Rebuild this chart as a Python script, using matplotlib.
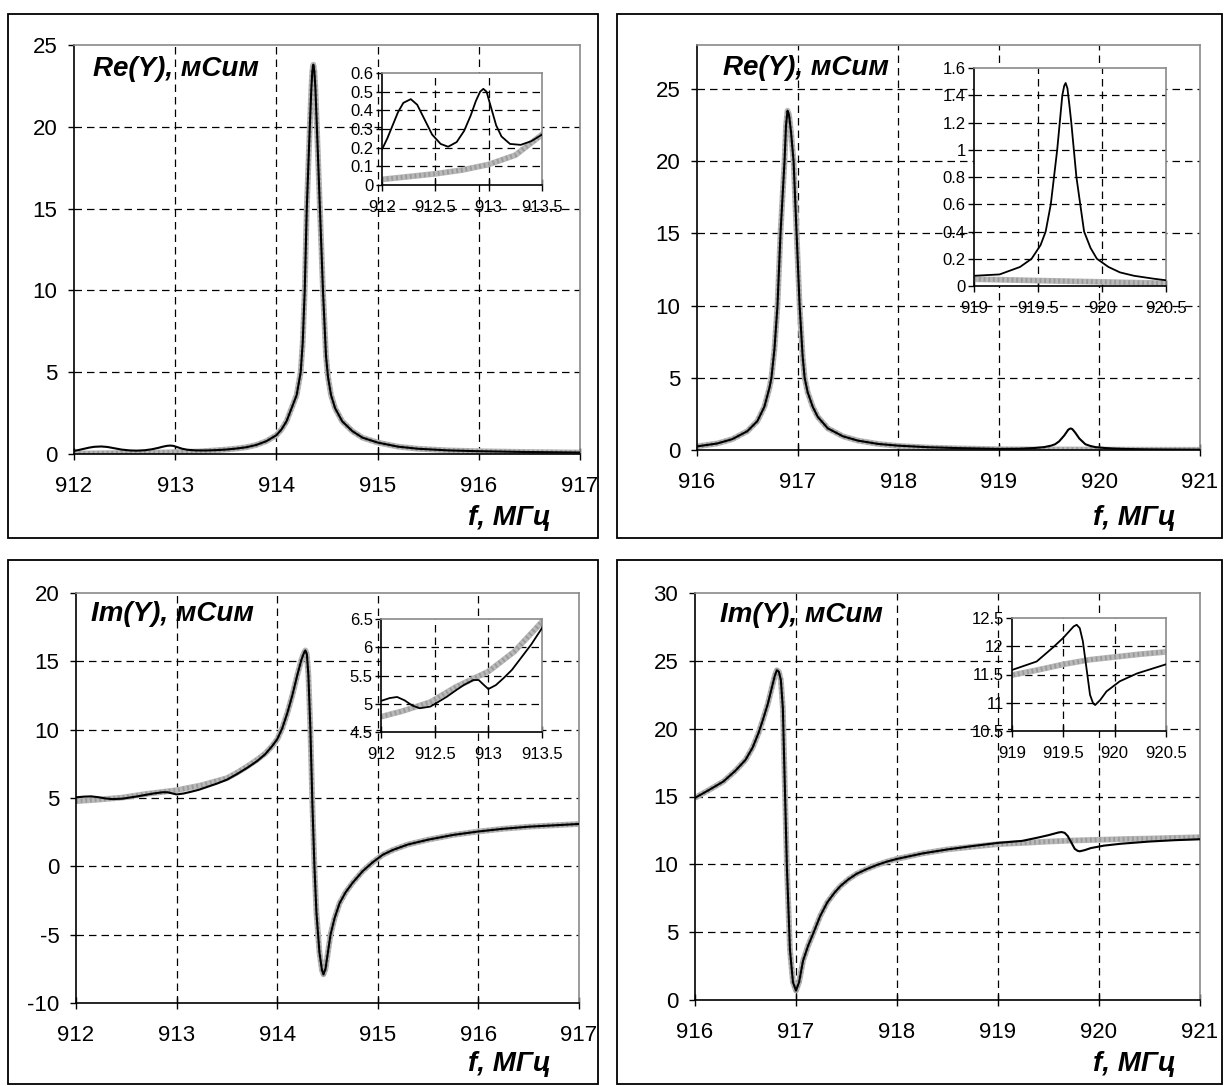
import matplotlib
matplotlib.use("Agg")
import matplotlib.pyplot as plt
from matplotlib.patches import Rectangle
from matplotlib.ticker import FuncFormatter

# ---- data (f in MHz, Y in mS) ----
# Re(Y), 912-917 MHz: black = measured, gray = model
re1_f = [912.0, 912.05, 912.1, 912.15, 912.2, 912.27, 912.33, 912.4, 912.47, 912.55,
         912.62, 912.7, 912.77, 912.83, 912.88, 912.92, 912.95, 912.98, 913.02, 913.07,
         913.12, 913.2, 913.3, 913.4, 913.5, 913.6, 913.7, 913.8, 913.9, 914.0,
         914.05, 914.1, 914.15, 914.2, 914.24, 914.26, 914.28, 914.3, 914.33, 914.345,
         914.355, 914.365, 914.375, 914.385, 914.4, 914.43, 914.46, 914.49, 914.51, 914.54,
         914.58, 914.65, 914.75, 914.85, 915.0, 915.2, 915.4, 915.7, 916.0, 916.5, 917.0]
re1_k = [0.19, 0.25, 0.32, 0.39, 0.44, 0.46, 0.43, 0.35, 0.27, 0.22,
         0.205, 0.23, 0.29, 0.37, 0.45, 0.50, 0.515, 0.50, 0.42, 0.32,
         0.26, 0.22, 0.215, 0.235, 0.27, 0.33, 0.41, 0.55, 0.78, 1.15,
         1.5, 2.0, 2.8, 3.6, 5.0, 6.8, 10.0, 15.0, 20.0, 22.3,
         23.4, 23.8, 23.4, 22.4, 20.0, 15.0, 10.0, 6.0, 4.7, 3.6,
         2.8, 2.0, 1.4, 1.0, 0.7, 0.45, 0.32, 0.22, 0.17, 0.12, 0.09]
re1_g_f = [912.0, 912.25, 912.5, 912.75, 913.0, 913.25, 913.5, 913.6, 913.7, 913.8,
           913.9, 914.0, 914.05, 914.1, 914.15, 914.2, 914.24, 914.26, 914.28, 914.3,
           914.33, 914.345, 914.355, 914.365, 914.375, 914.385, 914.4, 914.43, 914.46, 914.49,
           914.51, 914.54, 914.58, 914.65, 914.75, 914.85, 915.0, 915.2, 915.4, 915.7,
           916.0, 916.5, 917.0]
re1_g = [0.03, 0.045, 0.06, 0.08, 0.11, 0.16, 0.27, 0.33, 0.41, 0.55,
         0.78, 1.15, 1.5, 2.0, 2.8, 3.6, 5.0, 6.8, 10.0, 15.0,
         20.0, 22.3, 23.4, 23.8, 23.4, 22.4, 20.0, 15.0, 10.0, 6.0,
         4.7, 3.6, 2.8, 2.0, 1.4, 1.0, 0.7, 0.45, 0.32, 0.22,
         0.17, 0.12, 0.09]

# Re(Y), 916-921 MHz
re2_f = [916.0, 916.2, 916.35, 916.5, 916.6, 916.67, 916.72, 916.74, 916.77, 916.8,
         916.83, 916.87, 916.885, 916.9, 916.915, 916.935, 916.96, 916.99, 917.02, 917.05,
         917.07, 917.1, 917.15, 917.2, 917.3, 917.45, 917.6, 917.8, 918.0, 918.3,
         918.6, 919.0, 919.2, 919.36, 919.45, 919.52, 919.56, 919.6, 919.625, 919.65,
         919.67, 919.69, 919.705, 919.716, 919.73, 919.745, 919.76, 919.78, 919.8, 919.83,
         919.86, 919.91, 919.96, 920.05, 920.14, 920.25, 920.4, 920.5, 920.75, 921.0]
re2_k = [0.25, 0.45, 0.75, 1.3, 2.0, 3.0, 4.3, 5.0, 7.0, 10.0,
         15.0, 20.0, 22.5, 23.5, 23.2, 22.0, 20.0, 15.0, 10.0, 6.5,
         5.0, 4.0, 3.0, 2.3, 1.5, 0.95, 0.65, 0.42, 0.3, 0.19,
         0.13, 0.075, 0.085, 0.14, 0.2, 0.3, 0.4, 0.6, 0.8, 1.0,
         1.2, 1.4, 1.47, 1.49, 1.45, 1.33, 1.2, 1.0, 0.8, 0.6,
         0.4, 0.28, 0.2, 0.14, 0.10, 0.075, 0.054, 0.042, 0.03, 0.02]
re2_g_f = [916.0, 916.2, 916.35, 916.5, 916.6, 916.67, 916.72, 916.74, 916.77, 916.8,
           916.83, 916.87, 916.885, 916.9, 916.915, 916.935, 916.96, 916.99, 917.02, 917.05,
           917.07, 917.1, 917.15, 917.2, 917.3, 917.45, 917.6, 917.8, 918.0, 918.3,
           918.6, 919.0, 919.5, 920.0, 920.5, 921.0]
re2_g = [0.25, 0.45, 0.75, 1.3, 2.0, 3.0, 4.3, 5.0, 7.0, 10.0,
         15.0, 20.0, 22.5, 23.5, 23.2, 22.0, 20.0, 15.0, 10.0, 6.5,
         5.0, 4.0, 3.0, 2.3, 1.5, 0.95, 0.65, 0.42, 0.28, 0.17,
         0.11, 0.05, 0.04, 0.03, 0.02, 0.015]

# Im(Y), 912-917 MHz
im1_f = [912.0, 912.08, 912.15, 912.22, 912.29, 912.36, 912.46, 912.54, 912.61, 912.7,
         912.77, 912.86, 912.91, 912.96, 913.0, 913.07, 913.14, 913.22, 913.3, 913.4,
         913.5, 913.6, 913.7, 913.8, 913.88, 913.95, 914.0, 914.05, 914.1, 914.15,
         914.2, 914.24, 914.265, 914.28, 914.295, 914.31, 914.33, 914.35, 914.37, 914.39,
         914.42, 914.445, 914.46, 914.48, 914.5, 914.53, 914.57, 914.62, 914.68, 914.75,
         914.85, 914.95, 915.05, 915.15, 915.3, 915.5, 915.75, 916.0, 916.25, 916.5,
         916.75, 917.0]
im1_k = [5.05, 5.1, 5.12, 5.06, 4.97, 4.92, 4.95, 5.04, 5.12, 5.24,
         5.33, 5.42, 5.42, 5.33, 5.26, 5.33, 5.45, 5.6, 5.8, 6.05,
         6.34, 6.75, 7.2, 7.7, 8.2, 8.8, 9.3, 10.1, 11.2, 12.5,
         14.0, 15.1, 15.6, 15.8, 15.5, 14.0, 10.0, 4.5, 0.0, -3.4,
         -6.3, -7.6, -7.9, -7.5, -6.5, -5.0, -3.8, -2.7, -1.9, -1.2,
         -0.35, 0.3, 0.85, 1.2, 1.6, 1.95, 2.3, 2.55, 2.75, 2.9,
         3.0, 3.1]
im1_g_f = [912.0, 912.2, 912.46, 912.7, 913.0, 913.24, 913.5, 913.6, 913.7, 913.8,
           913.88, 913.95, 914.0, 914.05, 914.1, 914.15, 914.2, 914.24, 914.265, 914.28,
           914.295, 914.31, 914.33, 914.35, 914.37, 914.39, 914.42, 914.445, 914.46, 914.48,
           914.5, 914.53, 914.57, 914.62, 914.68, 914.75, 914.85, 914.95, 915.05, 915.15,
           915.3, 915.5, 915.75, 916.0, 916.25, 916.5, 916.75, 917.0]
im1_g = [4.77, 4.87, 5.03, 5.3, 5.57, 5.92, 6.45, 6.85, 7.3, 7.8,
         8.25, 8.8, 9.3, 10.1, 11.2, 12.5, 14.0, 15.1, 15.6, 15.8,
         15.5, 14.0, 10.0, 4.5, 0.0, -3.4, -6.3, -7.6, -7.9, -7.5,
         -6.5, -5.0, -3.8, -2.7, -1.9, -1.2, -0.35, 0.3, 0.85, 1.2,
         1.6, 1.95, 2.3, 2.55, 2.75, 2.9, 3.0, 3.1]

# Im(Y), 916-921 MHz
im2_f = [916.0, 916.12, 916.28, 916.4, 916.5, 916.57, 916.63, 916.67, 916.72, 916.76,
         916.79, 916.81, 916.83, 916.85, 916.87, 916.88, 916.91, 916.94, 916.97, 917.0,
         917.03, 917.07, 917.12, 917.17, 917.24, 917.31, 917.38, 917.44, 917.52, 917.6,
         917.7, 917.8, 917.9, 918.0, 918.25, 918.5, 918.75, 919.0, 919.24, 919.4,
         919.5, 919.6, 919.63, 919.66, 919.69, 919.73, 919.76, 919.79, 919.81, 919.86,
         919.92, 920.05, 920.22, 920.5, 920.75, 921.0]
im2_k = [14.9, 15.4, 16.1, 16.9, 17.7, 18.6, 19.7, 20.6, 21.8, 23.0,
         23.9, 24.3, 24.2, 23.6, 21.5, 18.5, 9.8, 3.7, 1.3, 0.7,
         1.3, 2.9, 4.0, 4.9, 6.2, 7.2, 7.9, 8.4, 8.9, 9.3,
         9.65, 9.95, 10.2, 10.4, 10.8, 11.1, 11.35, 11.58, 11.73, 11.98,
         12.15, 12.35, 12.38, 12.32, 12.09, 11.55, 11.14, 10.99, 10.96, 11.05,
         11.2, 11.38, 11.52, 11.68, 11.78, 11.85]
im2_g_f = [916.0, 916.12, 916.28, 916.4, 916.5, 916.57, 916.63, 916.67, 916.72, 916.76,
           916.79, 916.81, 916.83, 916.85, 916.87, 916.88, 916.91, 916.94, 916.97, 917.0,
           917.03, 917.07, 917.12, 917.17, 917.24, 917.31, 917.38, 917.44, 917.52, 917.6,
           917.7, 917.8, 917.9, 918.0, 918.25, 918.5, 918.75, 919.0, 919.25, 919.5,
           919.75, 920.05, 920.25, 920.5, 921.0]
im2_g = [14.9, 15.4, 16.1, 16.9, 17.7, 18.6, 19.7, 20.6, 21.8, 23.0,
         23.9, 24.3, 24.2, 23.6, 21.5, 18.5, 9.8, 3.7, 1.3, 0.7,
         1.3, 2.9, 4.0, 4.9, 6.2, 7.2, 7.9, 8.4, 8.9, 9.3,
         9.65, 9.95, 10.2, 10.4, 10.8, 11.1, 11.3, 11.49, 11.58, 11.68,
         11.76, 11.82, 11.86, 11.9, 12.0]

plt.rcParams['font.family'] = ['Liberation Sans', 'DejaVu Sans']

W, H = 1225, 1086
fig = plt.figure(figsize=(W / 100, H / 100), dpi=100)


def rect(x0, y0, x1, y1):
    # pixel box -> figure fraction
    return [x0 / W, 1 - y1 / H, (x1 - x0) / W, (y1 - y0) / H]


fmt = FuncFormatter(lambda v, p: '%g' % v)


def setup(ax, xlim, ylim, xt, yt, fs, pad_x, pad_y):
    ax.set_xlim(xlim)
    ax.set_ylim(ylim)
    ax.set_xticks(xt)
    ax.set_yticks(yt)
    ax.xaxis.set_major_formatter(fmt)
    ax.yaxis.set_major_formatter(fmt)
    ax.tick_params(axis='x', direction='inout', length=8, width=1, labelsize=fs, pad=pad_x)
    ax.tick_params(axis='y', direction='out', length=4, width=1, labelsize=fs, pad=pad_y)
    for s in ['top', 'right']:
        ax.spines[s].set_color('#8a8a8a')
        ax.spines[s].set_linewidth(1.2)
    for s in ['left', 'bottom']:
        ax.spines[s].set_color('black')
        ax.spines[s].set_linewidth(1.2)
    # dashed grid only inside the plot area
    for v in xt:
        if xlim[0] < v < xlim[1]:
            ax.axvline(v, color='black', lw=0.9, ls=(0, (6, 4)), zorder=1)
    for v in yt:
        if ylim[0] < v < ylim[1]:
            ax.axhline(v, color='black', lw=0.9, ls=(0, (6, 4)), zorder=1)


def curves(ax, fk, yk, fg, yg, lw_g, lw_k):
    ax.plot(fg, yg, color='#b9b9b9', lw=lw_g, solid_capstyle='butt', zorder=2)
    ax.plot(fg, yg, color='#9a9a9a', lw=lw_g * 0.8, ls=(0, (0.4, 0.6)), zorder=2)
    ax.plot(fk, yk, color='black', lw=lw_k, zorder=3)


panels = [
    dict(box=(8, 14, 598, 538), main=(74, 45, 580, 454), ins=(382, 73, 542, 185),
         fk=re1_f, yk=re1_k, fg=re1_g_f, yg=re1_g,
         xlim=(912, 917), ylim=(0, 25), yt=[0, 5, 10, 15, 20, 25],
         ixlim=(912, 913.5), iylim=(0, 0.6), iyt=[0, 0.1, 0.2, 0.3, 0.4, 0.5, 0.6],
         title='Re(Y), мСим', tpos=(93, 76), fpos=(551, 525)),
    dict(box=(617, 14, 1222, 538), main=(697, 45, 1200, 450), ins=(974, 68, 1166, 286),
         fk=re2_f, yk=re2_k, fg=re2_g_f, yg=re2_g,
         xlim=(916, 921), ylim=(0, 28.05), yt=[0, 5, 10, 15, 20, 25],
         ixlim=(919, 920.5), iylim=(0, 1.6), iyt=[0, 0.2, 0.4, 0.6, 0.8, 1.0, 1.2, 1.4, 1.6],
         title='Re(Y), мСим', tpos=(723, 75), fpos=(1176, 525)),
    dict(box=(8, 560, 598, 1084), main=(76, 593, 579, 1003), ins=(381, 619, 542, 732),
         fk=im1_f, yk=im1_k, fg=im1_g_f, yg=im1_g,
         xlim=(912, 917), ylim=(-10, 20), yt=[-10, -5, 0, 5, 10, 15, 20],
         ixlim=(912, 913.5), iylim=(4.5, 6.5), iyt=[4.5, 5, 5.5, 6, 6.5],
         title='Im(Y), мСим', tpos=(91, 621), fpos=(551, 1071)),
    dict(box=(617, 560, 1222, 1084), main=(695, 593, 1200, 1000), ins=(1012, 618, 1166, 731),
         fk=im2_f, yk=im2_k, fg=im2_g_f, yg=im2_g,
         xlim=(916, 921), ylim=(0, 30), yt=[0, 5, 10, 15, 20, 25, 30],
         ixlim=(919, 920.5), iylim=(10.5, 12.5), iyt=[10.5, 11, 11.5, 12, 12.5],
         title='Im(Y), мСим', tpos=(720, 622), fpos=(1176, 1071)),
]

for p in panels:
    x0, y0, x1, y1 = p['box']
    fig.patches.append(Rectangle((x0 / W, 1 - y1 / H), (x1 - x0) / W, (y1 - y0) / H,
                                 transform=fig.transFigure, fill=False,
                                 edgecolor='black', lw=1.3))

    ax = fig.add_axes(rect(*p['main']))
    ax.set_facecolor('none')
    xt = list(range(int(p['xlim'][0]), int(p['xlim'][1]) + 1))
    setup(ax, p['xlim'], p['ylim'], xt, p['yt'], 16, 12, 8)
    curves(ax, p['fk'], p['yk'], p['fg'], p['yg'], 4.2, 1.5)

    ins = fig.add_axes(rect(*p['ins']))
    ins.set_facecolor('white')
    ixt = [p['ixlim'][0], p['ixlim'][0] + 0.5, p['ixlim'][0] + 1.0, p['ixlim'][1]]
    setup(ins, p['ixlim'], p['iylim'], ixt, p['iyt'], 12, 7, 2)
    curves(ins, p['fk'], p['yk'], p['fg'], p['yg'], 4.2, 1.3)

    fig.text(p['tpos'][0] / W, 1 - p['tpos'][1] / H, p['title'], fontsize=20,
             fontweight='bold', style='italic', va='baseline', ha='left')
    fig.text(p['fpos'][0] / W, 1 - p['fpos'][1] / H, 'f, МГц', fontsize=20,
             fontweight='bold', style='italic', va='baseline', ha='right')

fig.savefig('out.png', dpi=100)
